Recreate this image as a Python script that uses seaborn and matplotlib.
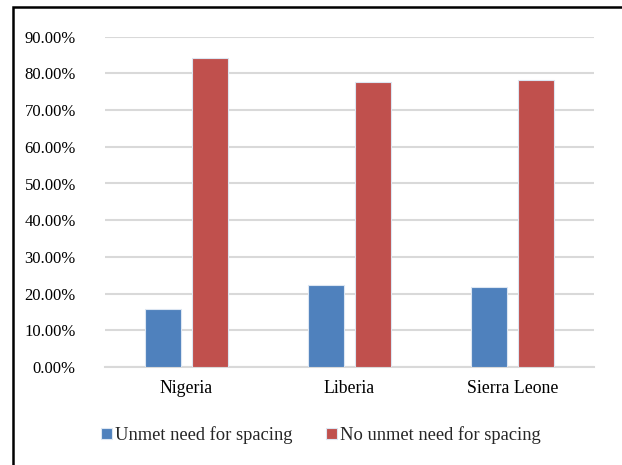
import seaborn as sns
import matplotlib.pyplot as plt
import pandas as pd
from matplotlib.patches import Rectangle
from matplotlib.ticker import PercentFormatter

# data
countries = ['Nigeria', 'Liberia', 'Sierra Leone']
unmet = [0.159, 0.224, 0.219]
no_unmet = [0.841, 0.776, 0.781]
series_names = ['Unmet need for spacing', 'No unmet need for spacing']
y_ticks = [0.0, 0.1, 0.2, 0.3, 0.4, 0.5, 0.6, 0.7, 0.8, 0.9]

df = pd.DataFrame({
    'Country': countries * 2,
    'Series': [series_names[0]] * 3 + [series_names[1]] * 3,
    'Value': unmet + no_unmet,
})

sns.set_style('white')
plt.rcParams['font.family'] = ['Liberation Serif', 'DejaVu Serif']

fig = plt.figure(figsize=(6.22, 4.65), dpi=100)
ax = fig.add_axes([105 / 622, 1 - 367 / 465, (594 - 105) / 622, (367 - 36.7) / 465])

sns.barplot(data=df, x='Country', y='Value', hue='Series',
            palette=['#4F81BD', '#C0504D'], saturation=1, width=0.577, gap=0.23,
            edgecolor='#dce6f2', linewidth=0.8, ax=ax, zorder=3)

ax.set_ylim(0, 0.9)
ax.set_yticks(y_ticks)
ax.yaxis.set_major_formatter(PercentFormatter(1.0, decimals=2))
ax.grid(axis='y', color='#d9d9d9', linewidth=1.5, zorder=0)
ax.set_axisbelow(True)
for s in ['top', 'right', 'left']:
    ax.spines[s].set_visible(False)
ax.spines['bottom'].set_color('#d9d9d9')
ax.spines['bottom'].set_linewidth(1.5)
ax.tick_params(axis='y', length=0, pad=21, labelsize=12.0, colors='black')
ax.tick_params(axis='x', length=0, pad=9, labelsize=12.8, colors='black')
ax.set_xlabel('')
ax.set_ylabel('')

# legend at the bottom
ax.legend(loc='center', bbox_to_anchor=((321 - 105) / 489, -(435 - 367) / (367 - 36.7)),
          ncol=2, frameon=False, fontsize=13.3, handlelength=0.6,
          handleheight=0.6, handletextpad=0.15, columnspacing=1.8)

# chart frame (only the left and top edges show)
fig.add_artist(Rectangle((13 / 622, -0.2), 1.5, 1.2 - 7 / 465,
                         transform=fig.transFigure, fill=False,
                         edgecolor='black', linewidth=1.8))

plt.savefig('out.png', dpi=100)
